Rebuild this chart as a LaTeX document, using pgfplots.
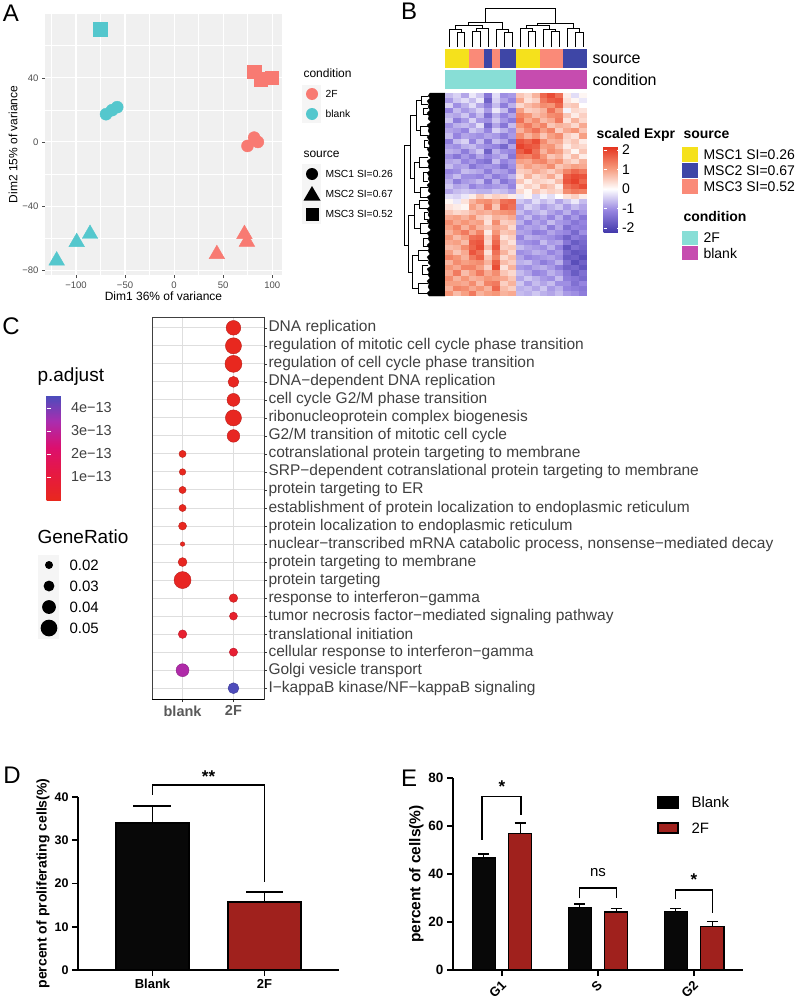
\documentclass[border=0pt]{standalone}
\usepackage{fontspec}
\setmainfont{Liberation Sans}
\usepackage{pgfplots}
\usepackage{pgfplotstable}
\pgfplotsset{compat=1.18, /pgf/number format/assume math mode=true}

\newcommand\fs[1]{\fontsize{#1}{#1}\selectfont}

\definecolor{salm}{RGB}{248,122,114}
\definecolor{cyn}{RGB}{84,199,205}
\definecolor{panelbg}{RGB}{240,240,240}
\definecolor{tgray}{RGB}{77,77,77}
\definecolor{annY}{RGB}{245,225,28}
\definecolor{annS}{RGB}{250,138,120}
\definecolor{annB}{RGB}{62,70,166}
\definecolor{annC}{RGB}{136,222,214}
\definecolor{annM}{RGB}{198,76,175}
\definecolor{barred}{RGB}{160,33,29}

% one heatmap cell
\pgfdeclareplotmark{hcell}{%
  \pgfpathrectangle{\pgfpoint{-4.1pt}{-2.7pt}}{\pgfpoint{8.2pt}{5.4pt}}%
  \pgfusepathqfill}

% scaled expression, genes top to bottom, 18 samples
\pgfplotstableread{
c1 c2 c3 c4 c5 c6 c7 c8 c9 c10 c11 c12 c13 c14 c15 c16 c17 c18
-0.6 -0.4 -0.8 -0.2 -0.5 -1.3 -0.3 -1.0 -0.9 0.6 0.4 0.8 1.6 1.9 1.5 0.2 -0.3 0.1
-0.9 -0.5 -0.3 -0.6 -0.2 -1.6 -0.4 -0.8 -1.1 0.9 0.3 0.5 1.4 1.7 1.8 0.3 0.1 -0.2
-0.4 -1.0 -0.7 -0.3 -0.8 -1.2 -0.6 -1.2 -0.7 0.4 0.7 0.9 1.2 1.1 1.6 0.5 0.6 0.0
-1.1 -0.6 -0.9 -0.7 -0.4 -0.9 -0.2 -0.6 -1.3 1.0 0.5 0.6 0.8 1.5 1.0 -0.1 0.4 0.3
-0.7 -0.8 -0.5 -1.0 -0.6 -1.4 -0.7 -1.1 -0.8 1.3 1.1 0.7 0.9 1.2 1.3 0.6 0.2 0.5
-0.5 -1.2 -0.9 -0.4 -0.9 -1.0 -0.5 -0.9 -1.2 1.5 0.9 1.2 0.7 0.9 1.4 0.3 0.8 0.4
-1.0 -0.7 -0.6 -0.8 -0.3 -1.5 -0.8 -1.3 -0.6 1.1 1.4 1.0 1.3 0.6 0.8 0.7 0.4 0.9
-0.8 -0.9 -1.1 -0.5 -0.7 -1.1 -0.4 -0.7 -1.0 0.8 1.2 1.5 1.0 1.3 0.5 0.9 1.1 0.6
-0.6 -1.1 -0.8 -0.9 -1.0 -0.8 -0.9 -1.2 -0.9 1.2 0.8 1.1 0.6 1.0 1.2 0.5 0.3 1.0
-1.2 -0.6 -0.4 -1.1 -0.6 -1.3 -0.6 -0.8 -1.4 1.8 1.6 1.9 1.2 0.8 0.9 0.4 0.6 0.2
-0.9 -1.0 -0.7 -0.6 -0.9 -1.0 -1.1 -1.5 -0.8 2.0 1.8 1.7 1.0 1.1 0.7 0.2 0.5 0.4
-0.7 -0.8 -1.2 -0.8 -0.5 -1.6 -0.7 -1.0 -1.1 1.7 2.0 1.5 0.8 1.2 1.0 0.5 0.1 0.6
-1.0 -1.3 -0.9 -1.2 -0.8 -1.1 -0.9 -0.7 -1.3 1.4 1.3 1.6 1.1 0.6 0.8 0.3 0.7 0.2
-0.8 -0.7 -1.1 -0.9 -1.2 -1.4 -0.6 -1.1 -0.9 1.0 0.9 1.2 1.3 0.9 1.1 0.6 0.4 0.8
-0.6 -0.9 -0.8 -1.3 -1.0 -0.9 -1.0 -1.4 -1.0 0.7 1.0 0.8 0.9 1.2 0.6 0.8 1.0 0.9
-1.1 -1.0 -0.6 -0.7 -0.8 -1.2 -0.8 -0.9 -1.2 0.5 0.6 0.9 0.7 0.5 0.8 1.3 1.6 1.4
-0.9 -0.6 -1.0 -1.0 -1.1 -0.8 -1.2 -1.0 -0.7 0.3 0.8 0.4 0.6 0.9 0.4 1.7 1.9 1.8
-0.7 -1.2 -0.9 -0.8 -0.6 -1.3 -0.7 -1.3 -1.0 0.6 0.2 0.5 0.4 0.3 0.7 1.8 2.0 1.6
-0.5 -0.8 -0.7 -1.1 -0.9 -1.0 -0.9 -0.8 -1.1 0.2 0.5 0.3 0.8 0.6 0.2 1.5 1.7 1.9
-0.8 -0.6 -0.5 -0.6 -0.7 -0.7 -0.5 -0.6 -0.8 0.4 0.1 0.6 0.3 0.5 0.4 1.2 1.4 1.3
-0.3 -0.4 -0.2 0.2 0.6 0.3 0.5 0.4 0.2 -0.2 0.1 -0.4 -0.1 -0.3 0.0 0.3 0.5 0.2
0.1 -0.2 0.3 0.8 1.1 1.2 0.9 1.5 1.6 -0.5 -0.7 -0.3 -0.6 -0.4 -0.8 -0.5 -0.2 -0.6
0.3 0.2 0.1 1.0 0.7 1.4 0.6 1.7 1.5 -0.8 -0.4 -0.6 -0.9 -0.7 -0.5 -0.9 -0.6 -0.8
0.6 0.4 0.5 0.7 0.9 0.8 1.0 1.1 1.2 -0.6 -0.9 -0.7 -0.5 -0.8 -1.0 -0.7 -1.1 -0.9
0.9 1.0 0.8 1.1 0.6 0.4 0.8 0.7 0.9 -0.9 -0.6 -1.0 -0.8 -1.1 -0.7 -1.2 -0.9 -1.3
1.2 0.9 1.1 0.9 1.0 0.3 1.2 0.5 0.6 -0.7 -1.1 -0.8 -1.0 -0.6 -0.9 -1.0 -1.3 -1.1
1.0 1.3 0.8 1.2 0.8 0.6 0.9 0.8 0.4 -1.0 -0.8 -0.9 -0.7 -1.2 -0.8 -1.4 -1.1 -1.2
0.8 1.1 1.4 0.9 1.3 0.2 1.1 0.6 0.7 -0.8 -0.9 -1.2 -1.1 -0.8 -1.0 -1.1 -1.5 -1.0
1.1 0.7 1.0 1.5 1.6 0.5 1.4 0.3 0.5 -1.1 -0.7 -0.8 -0.9 -1.0 -1.2 -1.6 -1.2 -1.4
0.9 1.0 0.7 1.7 1.8 0.4 1.6 0.6 0.3 -0.9 -1.0 -1.1 -0.6 -0.9 -0.8 -1.3 -1.7 -1.5
0.7 0.8 1.2 1.6 1.9 0.7 1.8 0.5 0.6 -0.6 -0.8 -0.9 -1.0 -0.7 -1.1 -1.8 -1.4 -1.6
1.0 0.6 0.9 1.8 1.5 0.3 1.5 0.8 0.4 -1.0 -0.9 -0.7 -0.8 -1.1 -0.9 -1.5 -1.8 -1.7
1.3 1.1 0.8 1.4 1.7 0.6 1.3 0.4 0.7 -0.8 -1.1 -1.0 -0.9 -0.8 -1.0 -1.7 -1.6 -1.9
0.8 1.2 1.0 1.1 1.2 0.8 1.7 0.7 0.5 -0.7 -0.6 -0.9 -1.2 -1.0 -0.7 -1.4 -1.9 -1.6
1.1 0.9 1.3 1.3 1.0 0.5 1.9 0.3 0.8 -0.9 -1.0 -0.8 -0.7 -0.9 -1.2 -1.6 -1.5 -1.8
0.9 1.4 0.7 1.0 1.4 0.9 1.2 0.6 0.4 -0.6 -0.8 -1.1 -1.0 -0.7 -0.9 -1.3 -1.7 -1.4
1.2 0.8 1.1 0.8 0.9 1.1 1.0 0.9 0.6 -0.8 -0.5 -0.7 -0.9 -1.0 -0.6 -1.2 -1.3 -1.5
1.0 1.0 0.9 1.2 0.7 1.3 1.4 0.5 0.8 -0.5 -0.9 -0.6 -0.8 -0.6 -1.0 -1.0 -1.4 -1.1
0.8 1.3 1.2 0.9 1.1 0.8 1.6 0.7 0.5 -0.7 -0.6 -0.8 -0.5 -0.9 -0.7 -1.1 -1.2 -1.3
1.1 0.7 1.0 1.4 0.8 1.0 1.1 0.8 0.9 -0.6 -0.7 -0.5 -0.7 -0.8 -0.6 -0.9 -1.0 -1.2
}\heat

% GO terms: row (top=1), column (1=blank, 2=2F), GeneRatio, p.adjust in 1e-13
\pgfplotstableread{
r col g p
1 2 0.043 0.05
2 2 0.048 0.02
3 2 0.051 0.02
4 2 0.030 0.10
5 2 0.037 0.10
6 2 0.048 0.10
7 2 0.036 0.15
8 1 0.017 0.02
9 1 0.015 0.03
10 1 0.017 0.03
11 1 0.017 0.04
12 1 0.020 0.05
13 1 0.008 0.08
14 1 0.023 0.10
15 1 0.051 0.15
16 2 0.022 0.30
17 2 0.020 0.50
18 1 0.022 0.60
19 2 0.021 0.70
20 1 0.037 3.30
21 2 0.030 4.50
}\godata

\begin{document}
\begin{tikzpicture}
\useasboundingbox (0pt,0pt) rectangle (795pt,-1001pt);

% ---------------- panel letters
\node[font=\fs{24}] at (11pt,-13pt) {A};
\node[font=\fs{24}] at (409pt,-11pt) {B};
\node[font=\fs{24}] at (11pt,-326pt) {C};
\node[font=\fs{24}] at (12pt,-775pt) {D};
\node[font=\fs{24}] at (409pt,-778pt) {E};

% ---------------- A: PCA
\begin{axis}[at={(45pt,-14pt)}, anchor=north west, scale only axis,
  width=237pt, height=261pt,
  xmin=-131.6, xmax=110, ymin=-83, ymax=79.8,
  axis background/.style={fill=panelbg},
  axis line style={draw=none},
  xtick={-100,-50,0,50,100}, xticklabels={−100,−50,0,50,100},
  ytick={-80,-40,0,40}, yticklabels={−80,−40,0,40},
  minor xtick={-125,-75,-25,25,75}, minor ytick={-60,-20,20,60},
  grid=both, major grid style={white, line width=1.1pt},
  minor grid style={white, line width=0.55pt},
  xtick pos=left, ytick pos=left,
  tick align=outside, major tick length=3pt, minor tick length=0pt,
  major tick style={black!70, line width=0.5pt},
  ticklabel style={font=\fs{9.5}, text=tgray},
  xlabel={Dim1 36\% of variance}, ylabel={Dim2 15\% of variance},
  label style={font=\fs{12}},
  xlabel style={yshift=3pt}, ylabel style={yshift=-2pt},
]
\addplot[only marks, mark=square*, mark size=6.7pt, color=cyn] coordinates {(-75.5,70.4)};
\addplot[only marks, mark=*, mark size=6pt, color=cyn] coordinates {(-69.4,17.3) (-63.3,19.8) (-58.0,21.7)};
\addplot[only marks, mark=triangle*, mark size=9pt, color=cyn] coordinates {(-119.7,-74) (-99.3,-62.5) (-85.7,-57.4)};
\addplot[only marks, mark=square*, mark size=6.7pt, color=salm] coordinates {(81.6,43.8) (88.5,39.2) (99.7,40.2)};
\addplot[only marks, mark=*, mark size=6pt, color=salm] coordinates {(74.8,-2.5) (81.6,2.7) (85.4,0)};
\addplot[only marks, mark=triangle*, mark size=9pt, color=salm] coordinates {(43.6,-70) (71.7,-57.5) (74.2,-62.3)};
\end{axis}

% legend A
\node[anchor=west, font=\fs{12}] at (300pt,-73pt) {condition};
\fill[black!4] (302pt,-85pt) rectangle (321pt,-123pt);
\fill[salm] (312pt,-94pt) circle (6pt);
\fill[cyn] (312pt,-114pt) circle (6pt);
\node[anchor=west, font=\fs{10.3}] at (322pt,-94pt) {2F};
\node[anchor=west, font=\fs{10.3}] at (322pt,-114pt) {blank};
\node[anchor=west, font=\fs{12}] at (300pt,-154pt) {source};
\fill[black!4] (302pt,-164pt) rectangle (321pt,-224pt);
\fill[black] (312pt,-174pt) circle (6pt);
\fill[black] (312pt,-186pt) -- (320.5pt,-200.5pt) -- (303.5pt,-200.5pt) -- cycle;
\fill[black] (305.5pt,-207.5pt) rectangle (318.5pt,-220.5pt);
\node[anchor=west, font=\fs{10.3}] at (322pt,-174pt) {MSC1 SI=0.26};
\node[anchor=west, font=\fs{10.3}] at (322pt,-194pt) {MSC2 SI=0.67};
\node[anchor=west, font=\fs{10.3}] at (322pt,-214pt) {MSC3 SI=0.52};

% ---------------- B: column dendrogram and annotations
\begin{axis}[at={(445pt,-6pt)}, anchor=north west, scale only axis,
  width=142pt, height=83pt, xmin=0.5, xmax=18.5, ymin=6, ymax=89,
  y dir=reverse, hide axis, clip=false]
\addplot[black, line width=0.5pt, unbounded coords=jump] coordinates {
 (2,47) (2,32) (3,32) (3,47) (nan,nan)
 (1,47) (1,29) (2.5,29) (2.5,32) (nan,nan)
 (4,47) (4,31) (5,31) (5,47) (nan,nan)
 (4.5,31) (4.5,28) (6,28) (6,47) (nan,nan)
 (1.75,29) (1.75,25) (5.25,25) (5.25,28) (nan,nan)
 (8,47) (8,32) (9,32) (9,47) (nan,nan)
 (7,47) (7,29) (8.5,29) (8.5,32) (nan,nan)
 (3.5,25) (3.5,22) (7.75,22) (7.75,29) (nan,nan)
 (11,47) (11,31) (12,31) (12,47) (nan,nan)
 (10,47) (10,28) (11.5,28) (11.5,31) (nan,nan)
 (14,47) (14,31) (15,31) (15,47) (nan,nan)
 (13,47) (13,29) (14.5,29) (14.5,31) (nan,nan)
 (10.75,28) (10.75,25) (13.75,25) (13.75,29) (nan,nan)
 (17,47) (17,32) (18,32) (18,47) (nan,nan)
 (16,47) (16,28) (17.5,28) (17.5,32) (nan,nan)
 (12.25,25) (12.25,23) (16.75,23) (16.75,28) (nan,nan)
 (5.6,22) (5.6,8) (14.5,8) (14.5,23)
};
% source strip
\addplot[fill=annY, draw=none] coordinates {(0.5,49) (3.5,49) (3.5,68) (0.5,68)} -- cycle;
\addplot[fill=annS, draw=none] coordinates {(3.5,49) (5.5,49) (5.5,68) (3.5,68)} -- cycle;
\addplot[fill=annB, draw=none] coordinates {(5.5,49) (6.5,49) (6.5,68) (5.5,68)} -- cycle;
\addplot[fill=annS, draw=none] coordinates {(6.5,49) (7.5,49) (7.5,68) (6.5,68)} -- cycle;
\addplot[fill=annB, draw=none] coordinates {(7.5,49) (9.5,49) (9.5,68) (7.5,68)} -- cycle;
\addplot[fill=annY, draw=none] coordinates {(9.5,49) (12.5,49) (12.5,68) (9.5,68)} -- cycle;
\addplot[fill=annS, draw=none] coordinates {(12.5,49) (15.5,49) (15.5,68) (12.5,68)} -- cycle;
\addplot[fill=annB, draw=none] coordinates {(15.5,49) (18.5,49) (18.5,68) (15.5,68)} -- cycle;
% condition strip
\addplot[fill=annC, draw=none] coordinates {(0.5,70) (9.5,70) (9.5,89) (0.5,89)} -- cycle;
\addplot[fill=annM, draw=none] coordinates {(9.5,70) (18.5,70) (18.5,89) (9.5,89)} -- cycle;
\end{axis}
\node[anchor=west, font=\fs{16}] at (589pt,-59pt) {source};
\node[anchor=west, font=\fs{16}] at (589pt,-80pt) {condition};

% row dendrogram
\begin{axis}[at={(403pt,-93pt)}, anchor=north west, scale only axis,
  width=42pt, height=203pt, xmin=403, xmax=445, ymin=93, ymax=296,
  y dir=reverse, hide axis, clip=false]
\addplot[fill=black, draw=black, line width=0.3pt] coordinates {
 (445,93) (430,93) (428,96) (430,98) (427,101) (429,104) (428,107) (430,110)
 (427,113) (429,116) (428,119) (431,122) (427,125) (429,128) (428,131) (430,134)
 (427,137) (429,140) (428,143) (430,146) (427,149) (429,152) (428,155) (431,158)
 (427,161) (429,164) (428,167) (430,170) (427,173) (429,176) (428,179) (430,182)
 (427,185) (429,188) (428,191) (431,194) (427,197) (429,200) (428,203) (430,206)
 (427,209) (429,212) (428,215) (430,218) (427,221) (429,224) (428,227) (431,230)
 (427,233) (429,236) (428,239) (430,242) (427,245) (429,248) (428,251) (430,254)
 (427,257) (429,260) (428,263) (431,266) (427,269) (429,272) (428,275) (430,278)
 (427,281) (429,284) (428,287) (430,290) (427,293) (429,296) (445,296)} -- cycle;
\addplot[black, line width=0.5pt, unbounded coords=jump] coordinates {
 (404,145) (404,245) (nan,nan)
 (404,145) (410,145) (nan,nan)
 (404,245) (408,245) (nan,nan)
 (410,115) (410,178) (nan,nan)
 (410,115) (416,115) (nan,nan)
 (410,178) (414,178) (nan,nan)
 (416,100) (416,130) (nan,nan)
 (416,100) (421,100) (nan,nan)
 (416,130) (420,130) (nan,nan)
 (414,162) (414,192) (nan,nan)
 (414,162) (419,162) (nan,nan)
 (414,192) (420,192) (nan,nan)
 (408,215) (408,272) (nan,nan)
 (408,215) (414,215) (nan,nan)
 (408,272) (412,272) (nan,nan)
 (414,204) (414,228) (nan,nan)
 (414,204) (419,204) (nan,nan)
 (414,228) (420,228) (nan,nan)
 (412,255) (412,288) (nan,nan)
 (412,255) (418,255) (nan,nan)
 (412,288) (418,288) (nan,nan)
 (428,96) (421,96) (421,104) (428,104) (nan,nan)
 (428,108) (423,108) (423,114) (428,114) (nan,nan)
 (428,126) (420,126) (420,135) (428,135) (nan,nan)
 (428,140) (424,140) (424,147) (428,147) (nan,nan)
 (428,157) (419,157) (419,167) (428,167) (nan,nan)
 (428,172) (423,172) (423,181) (428,181) (nan,nan)
 (428,187) (420,187) (420,197) (428,197) (nan,nan)
 (428,200) (419,200) (419,208) (428,208) (nan,nan)
 (428,212) (424,212) (424,219) (428,219) (nan,nan)
 (428,223) (420,223) (420,233) (428,233) (nan,nan)
 (428,238) (423,238) (423,246) (428,246) (nan,nan)
 (428,250) (418,250) (418,260) (428,260) (nan,nan)
 (428,265) (422,265) (422,274) (428,274) (nan,nan)
 (428,283) (418,283) (418,293) (428,293)
};
\end{axis}

% heatmap
\begin{axis}[at={(445pt,-93pt)}, anchor=north west, scale only axis,
  width=142pt, height=203pt, xmin=0.5, xmax=18.5, ymin=-39.5, ymax=0.5,
  axis line style={draw=none}, xtick=\empty, ytick=\empty, clip=false,
  colormap={heat}{rgb255(0cm)=(68,58,172) rgb255(1cm)=(150,132,224) rgb255(2cm)=(255,255,255) rgb255(3cm)=(246,150,120) rgb255(4cm)=(228,48,28)},
  point meta min=-2.2, point meta max=2.2,
  colorbar,
  colorbar style={at={(parent axis.north east)}, anchor=north west,
    xshift=8pt, yshift=-53pt, width=16pt, height=86pt,
    axis line style={draw=none}, xtick=\empty,
    ytick={-2,-1,0,1,2}, yticklabels={-2,-1,0,1,2},
    ytick pos=both, yticklabel pos=right,
    tick align=inside, major tick length=3pt,
    major tick style={white, line width=0.7pt},
    yticklabel style={font=\fs{14}, xshift=-1pt}},
]
\pgfplotsinvokeforeach{1,...,18}{
  \addplot[scatter, only marks, mark=hcell, point meta=explicit]
    table[x expr=#1, y expr={-\coordindex}, meta=c#1] {\heat};
}
\end{axis}

% legend B
\node[anchor=west, font=\bfseries\fs{14}] at (593pt,-135pt) {scaled Expr};
\node[anchor=west, font=\bfseries\fs{14}] at (680pt,-135pt) {source};
\fill[annY] (682pt,-147pt) rectangle (698pt,-162pt);
\fill[annB] (682pt,-163pt) rectangle (698pt,-178pt);
\fill[annS] (682pt,-179pt) rectangle (698pt,-194pt);
\node[anchor=west, font=\fs{14}] at (700pt,-155pt) {MSC1 SI=0.26};
\node[anchor=west, font=\fs{14}] at (700pt,-171pt) {MSC2 SI=0.67};
\node[anchor=west, font=\fs{14}] at (700pt,-187pt) {MSC3 SI=0.52};
\node[anchor=west, font=\bfseries\fs{14}] at (680pt,-216pt) {condition};
\fill[annC] (682pt,-231pt) rectangle (698pt,-245pt);
\fill[annM] (682pt,-246pt) rectangle (698pt,-260pt);
\node[anchor=west, font=\fs{14}] at (700pt,-238pt) {2F};
\node[anchor=west, font=\fs{14}] at (700pt,-253pt) {blank};

% ---------------- C: GO dot plot
\begin{axis}[at={(152pt,-317pt)}, anchor=north west, scale only axis,
  width=112pt, height=382pt,
  xmin=0.4, xmax=2.6, ymin=0.4, ymax=21.6,
  axis line style={black!75, line width=0.6pt},
  xtick={1,2}, xticklabels={blank,2F},
  ytick={1,...,21},
  yticklabels={I−kappaB kinase/NF−kappaB signaling, Golgi vesicle transport,
   cellular response to interferon−gamma, translational initiation,
   tumor necrosis factor−mediated signaling pathway, response to interferon−gamma,
   protein targeting, protein targeting to membrane,
   {nuclear−transcribed mRNA catabolic process, nonsense−mediated decay},
   protein localization to endoplasmic reticulum,
   establishment of protein localization to endoplasmic reticulum,
   protein targeting to ER, SRP−dependent cotranslational protein targeting to membrane,
   cotranslational protein targeting to membrane, G2/M transition of mitotic cell cycle,
   ribonucleoprotein complex biogenesis, cell cycle G2/M phase transition,
   DNA−dependent DNA replication, regulation of cell cycle phase transition,
   regulation of mitotic cell cycle phase transition, DNA replication},
  ytick pos=right, yticklabel pos=right, xtick pos=left,
  tick align=outside, major tick length=3pt,
  major tick style={black!80, line width=0.6pt},
  yticklabel style={font=\fs{15.5}, text=black!75, xshift=-2pt},
  xticklabel style={font=\bfseries\fs{14.5}, text=black!65},
  grid=major, major grid style={black!13, line width=1pt},
  colormap={padj}{rgb255(0cm)=(232,40,30) rgb255(1cm)=(230,25,65) rgb255(2cm)=(220,15,110) rgb255(3cm)=(170,45,175) rgb255(4cm)=(72,78,188)},
  point meta min=0, point meta max=4.565,
  colorbar,
  colorbar style={at={(parent axis.north west)}, anchor=north west,
    xshift=-114pt, yshift=-78pt, width=21pt, height=105pt,
    axis line style={draw=none}, xtick=\empty,
    ytick={1,2,3,4}, yticklabels={1e−13,2e−13,3e−13,4e−13},
    ytick pos=both, yticklabel pos=right,
    tick align=inside, major tick length=4pt,
    major tick style={white, line width=0.8pt},
    yticklabel style={font=\fs{14.5}, text=black!75}},
]
\addplot[scatter, only marks, mark=*, point meta=\thisrow{p},
  visualization depends on={\thisrow{g}\as\gr},
  scatter/@pre marker code/.append style={/tikz/mark size=145*\gr+1.1}]
  table[x=col, y expr={22-\thisrow{r}}] {\godata};
\draw[black, line width=1pt] (rel axis cs:1,0) -- (rel axis cs:1,1);
\draw[black, line width=1pt] (rel axis cs:0,0) -- (rel axis cs:1,0);
\end{axis}

% legend C
\node[anchor=west, font=\fs{19}] at (34pt,-377pt) {p.adjust};
\node[anchor=west, font=\fs{19}] at (34pt,-537pt) {GeneRatio};
\fill[black!4] (38pt,-555pt) rectangle (59pt,-639pt);
\fill[black] (49pt,-565pt) circle (4.0pt);
\fill[black] (49pt,-586pt) circle (5.45pt);
\fill[black] (49pt,-607pt) circle (6.9pt);
\fill[black] (49pt,-628pt) circle (8.35pt);
\node[anchor=west, font=\fs{15}] at (66pt,-565pt) {0.02};
\node[anchor=west, font=\fs{15}] at (66pt,-586pt) {0.03};
\node[anchor=west, font=\fs{15}] at (66pt,-607pt) {0.04};
\node[anchor=west, font=\fs{15}] at (66pt,-628pt) {0.05};

% ---------------- D: proliferating cells
\begin{axis}[at={(78pt,-970pt)}, anchor=south west, scale only axis,
  width=261pt, height=173pt, xmin=-0.665, xmax=1.665, ymin=0, ymax=40, clip=false,
  axis x line=bottom, axis y line=left, axis line style={line width=1.6pt, -},
  xtick={0,1}, xticklabels={Blank,2F}, ytick={0,10,20,30,40},
  tick align=outside, major tick length=6pt,
  major tick style={black, line width=1.6pt},
  xticklabel style={font=\bfseries\fs{13}},
  yticklabel style={font=\bfseries\fs{12.5}},
  ylabel={percent of proliferating cells(\%)},
  ylabel style={font=\bfseries\fs{14}, yshift=-2pt},
]
\addplot[ybar, bar width=0.65, bar shift=0pt, fill=black!97, draw=black, line width=1.6pt,
  error bars/y dir=plus, error bars/y explicit,
  error bars/error bar style={line width=1.6pt, black},
  error bars/error mark options={rotate=90, mark size=19pt, line width=1.6pt, black}]
  coordinates {(0,34.0) +- (0,3.9)};
\addplot[ybar, bar width=0.65, bar shift=0pt, fill=barred, draw=black, line width=1.8pt,
  error bars/y dir=plus, error bars/y explicit,
  error bars/error bar style={line width=1.6pt, black},
  error bars/error mark options={rotate=90, mark size=18.5pt, line width=1.6pt, black}]
  coordinates {(1,15.7) +- (0,2.3)};
\addplot[black, line width=1.6pt] coordinates {(0,40.5) (0,42.8) (1,42.8) (1,20.3)};
\node[font=\bfseries\fs{17}] at (axis cs:0.5,44.6) {**};
\end{axis}

% ---------------- E: cell cycle (bars placed at G1=0, S=1, G2=2 +- 0.19)
\begin{axis}[at={(453pt,-970pt)}, anchor=south west, scale only axis,
  width=290pt, height=192pt, xmin=-0.51, xmax=2.51, ymin=0, ymax=80, clip=false,
  axis x line=bottom, axis y line=left, axis line style={line width=1.6pt, -},
  xtick={0,1,2}, xticklabels={G1,S,G2}, ytick={0,20,40,60,80},
  tick align=outside, major tick length=6pt,
  major tick style={black, line width=1.6pt},
  xticklabel style={font=\bfseries\fs{13}, rotate=45, anchor=north east, yshift=2pt},
  yticklabel style={font=\bfseries\fs{13.5}},
  ylabel={percent of cells(\%)},
  ylabel style={font=\bfseries\fs{15.5}, yshift=-2pt},
]
\addplot[ybar, bar width=0.24, bar shift=0pt, fill=black!97, draw=black, line width=1.4pt,
  error bars/y dir=plus, error bars/y explicit,
  error bars/error bar style={line width=1.4pt, black},
  error bars/error mark options={rotate=90, mark size=5.5pt, line width=1.4pt, black}]
  coordinates {(-0.19,46.6) +- (0,1.8) (0.81,26.0) +- (0,1.5) (1.81,24.3) +- (0,1.4)};
\addplot[ybar, bar width=0.24, bar shift=0pt, fill=barred, draw=black, line width=1.4pt,
  error bars/y dir=plus, error bars/y explicit,
  error bars/error bar style={line width=1.4pt, black},
  error bars/error mark options={rotate=90, mark size=5.5pt, line width=1.4pt, black}]
  coordinates {(0.19,57.0) +- (0,4.2) (1.19,24.1) +- (0,1.5) (2.19,18.1) +- (0,2.1)};
\addplot[black, line width=1.4pt] coordinates {(-0.21,54.2) (-0.21,72.3) (0.20,72.3) (0.20,64.7)};
\addplot[black, line width=1.4pt] coordinates {(0.81,29.9) (0.81,34.1) (1.19,34.1) (1.19,29.9)};
\addplot[black, line width=1.4pt] coordinates {(1.81,29.5) (1.81,33.4) (2.19,33.4) (2.19,23.6)};
\node[font=\bfseries\fs{17}] at (axis cs:0,76.5) {*};
\node[font=\fs{15}] at (axis cs:1,40.5) {ns};
\node[font=\bfseries\fs{17}] at (axis cs:2,37.8) {*};
\end{axis}

% legend E
\filldraw[fill=black, draw=black, line width=1.2pt] (658pt,-797pt) rectangle (678pt,-808pt);
\filldraw[fill=barred, draw=black, line width=1.2pt] (658pt,-823pt) rectangle (678pt,-833pt);
\node[anchor=west, font=\fs{15}] at (688pt,-802.5pt) {Blank};
\node[anchor=west, font=\fs{15}] at (688pt,-828pt) {2F};

\end{tikzpicture}
\end{document}
